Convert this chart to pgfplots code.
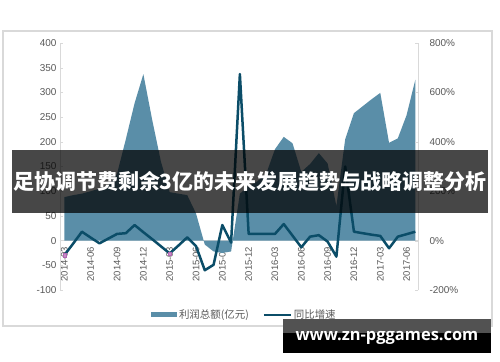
\documentclass[border=0pt]{standalone}
\usepackage{pgfplots}
\usepackage{pgfplotstable}
\pgfplotsset{compat=1.18}
\usepackage{fontspec}
\setmainfont{Liberation Sans}
\newfontfamily\cjk{Noto Sans CJK SC}
\newfontfamily\webfont{Open Sans}
\definecolor{areablue}{HTML}{5A8EA8}
\definecolor{linenavy}{HTML}{0B4D68}
\definecolor{labelgray}{HTML}{595959}
\definecolor{axisgray}{HTML}{D9D9D9}

% monthly profit total (100 million yuan) and year-on-year growth (%)
\pgfplotstableread{
idx profit growth
0 88 -59
1 92 -12
2 95 36
3 100 12
4 105 -11
5 112 8
6 135 27
7 205 30
8 278 63
9 337 34
10 245 6
11 160 -23
12 98 -52
13 95 -20
14 92 13
15 55 -22
16 -8 -120
17 -22 -98
18 -25 63
19 -22 -8
20 95 674
21 110 27
22 120 27
23 135 27
24 185 27
25 210 67
26 197 20
27 139 -27
28 155 16
29 177 22
30 156 -4
31 70 -65
32 205 300
33 258 36
34 272 30
35 286 24
36 299 19
37 198 -31
38 207 16
39 254 26
40 326 36
}\datatable

\pgfplotstableread{
idx growth
0 -59
12 -52
}\markedpoints

\pgfplotsset{
  common/.style={
    at={(60bp,72bp)}, anchor=south west, scale only axis,
    width=358bp, height=247bp,
    xmin=-0.5, xmax=40.3,
    axis line style={-, axisgray},
    /pgf/number format/assume math mode=true,
    tick style={axisgray}, major tick length=3bp, tick align=inside,
    yticklabel style={font=\fontsize{10}{10}\selectfont, color=labelgray},
  },
}

\begin{document}
\begin{tikzpicture}
\useasboundingbox (0bp,0bp) rectangle (500bp,362bp);
\fill[white] (0bp,0bp) rectangle (500bp,362bp);
\draw[axisgray, line width=1.3bp] (3bp,36bp) rectangle (492bp,331bp);

\begin{axis}[
  common,
  ymin=-100, ymax=400,
  axis x line*=bottom, axis y line*=left,
  x axis line style={draw=none},
  xtick={0,3,...,39},
  xtick style={draw=none},
  xticklabels={2014-03,2014-06,2014-09,2014-12,2015-03,2015-06,2015-09,2015-12,2016-03,2016-06,2016-09,2016-12,2017-03,2017-06},
  xticklabel style={rotate=90, anchor=west, font=\fontsize{9.5}{10}\selectfont, color=labelgray},
  xticklabel shift=-5bp,
  ytick={-100,-50,...,400},
  extra y ticks={0}, extra y tick labels={},
  extra y tick style={grid=major, major grid style={axisgray, line width=0.6bp}},
  legend style={at={(0.515,-0.10)}, anchor=center, draw=none, fill=none,
    legend columns=2, font=\fontsize{10.5}{11}\selectfont\color{labelgray},
    /tikz/every even column/.append style={column sep=12bp}},
]
\addplot[draw=none, fill=areablue,
  legend image code/.code={\fill[areablue] (0bp,-2.5bp) rectangle (26bp,2.5bp);}]
  table[x=idx, y=profit]{\datatable} \closedcycle;
\addlegendentry{\cjk 利润总额(亿元)}
\addlegendimage{linenavy, line width=2bp,
  legend image code/.code={\draw[linenavy, line width=2bp] (0bp,0bp) -- (27bp,0bp);}}
\addlegendentry{\cjk 同比增速}
\end{axis}

\begin{axis}[
  common,
  ymin=-200, ymax=800,
  axis x line=none, axis y line*=right,
  ytick={-200,0,...,800},
  yticklabel={\pgfmathprintnumber{\tick}\%},
  yticklabel style={anchor=west, xshift=8bp},
]
\addplot[linenavy, line width=2.5bp, line join=round] table[x=idx, y=growth]{\datatable};
\addplot[only marks, mark=square*, mark size=1.6bp, mark options={fill=violet!45, draw=violet!60}]
  table[x=idx, y=growth]{\markedpoints};
\end{axis}

% title banner across the chart
\fill[black, opacity=0.72] (12bp,149bp) rectangle (488bp,212bp);
\node[text=white, font=\cjk\bfseries\fontsize{21}{21}\selectfont] at (250bp,180.5bp)
  {足协调节费剩余3亿的未来发展趋势与战略调整分析};

% site label, lower right
\fill[black!68] (283bp,29bp) rectangle (491bp,43bp);
\fill[black] (283bp,9bp) rectangle (491bp,29bp);
\node[text=white, font=\webfont\bfseries\fontsize{16.5}{16.5}\selectfont] at (387bp,24.5bp) {www.zn-pggames.com};
\end{tikzpicture}
\end{document}
